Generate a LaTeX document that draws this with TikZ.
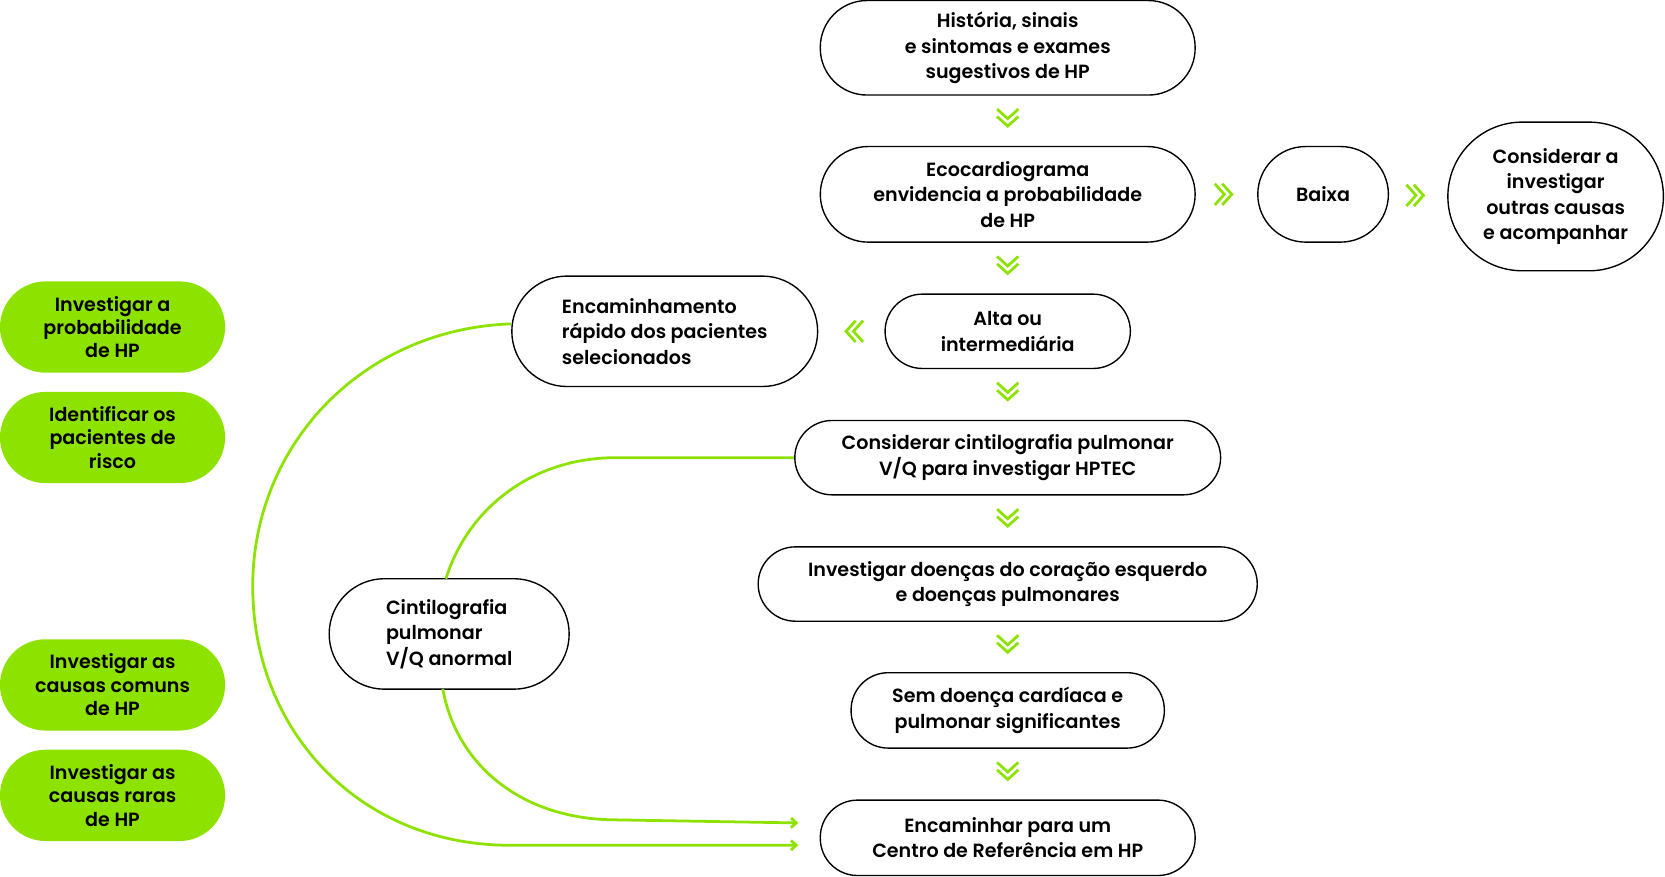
\documentclass[tikz,border=0pt]{standalone}
\usepackage{fontspec}
\setmainfont{Poppins}[BoldFont={* SemiBold}]
\usetikzlibrary{arrows.meta,calc}
\definecolor{lime}{RGB}{142,226,0}
\tikzset{
  pill/.style n args={3}{draw,line width=1.3pt,rounded corners=#3,
    minimum width=#1,minimum height=#2,align=center,inner sep=0pt,
    font=\fontsize{18}{24}\selectfont\bfseries},
  tag/.style={fill=lime,rounded corners=43pt,minimum width=212pt,
    minimum height=86pt,align=center,inner sep=0pt,
    font=\fontsize{18}{22}\selectfont\bfseries},
  link/.style={draw=lime,line width=2.6pt},
  dchev/.pic={
    \draw[lime,line width=2.6pt] (-10,4) -- (0,-5) -- (10,4);
    \draw[lime,line width=2.6pt] (-10,11) -- (0,2) -- (10,11);
  }
}

\begin{document}
\begin{tikzpicture}[x=1pt,y=1pt]
\useasboundingbox (0,0) rectangle (1568,-825);

% main column
\node[pill={353pt}{89pt}{44pt}] (hist) at (949,-45) {História, sinais\\e sintomas e exames\\sugestivos de HP};
\node[pill={353pt}{90pt}{45pt}] (eco) at (949,-183) {Ecocardiograma\\envidencia a probabilidade\\de HP};
\node[pill={123pt}{90pt}{45pt}] (baixa) at (1246,-183) {Baixa};
\node[pill={203pt}{140pt}{70pt}] (outras) at (1465,-185) {Considerar a\\investigar\\outras causas\\e acompanhar};
\node[pill={231pt}{70pt}{35pt}] (alta) at (949,-312) {Alta ou\\intermediária};
\node[pill={288pt}{104pt}{52pt},align=left] (rapido) at (626,-312) {Encaminhamento\\rápido dos pacientes\\selecionados};
\node[pill={401pt}{70pt}{35pt}] (cinti) at (949,-431) {Considerar cintilografia pulmonar\\V/Q para investigar HPTEC};
\node[pill={470pt}{70pt}{35pt}] (coracao) at (949,-550) {Investigar doenças do coração esquerdo\\e doenças pulmonares};
\node[pill={295pt}{71pt}{35pt}] (semdoenca) at (949,-669) {Sem doença cardíaca e\\pulmonar significantes};
\node[pill={353pt}{71pt}{35pt}] (centro) at (949,-789) {Encaminhar para um\\Centro de Referência em HP};
\node[pill={226pt}{104pt}{52pt},align=left] (anormal) at (423,-597) {Cintilografia\\pulmonar\\V/Q anormal};

% green tags
\node[tag] (t1) at (106,-308) {Investigar a\\probabilidade\\de HP};
\node[tag] (t2) at (106,-412) {Identificar os\\pacientes de\\risco};
\node[tag] (t3) at (106,-645) {Investigar as\\causas comuns\\de HP};
\node[tag] (t4) at (106,-749) {Investigar as\\causas raras\\de HP};

% chevrons
\pic at ($(hist.south)!.5!(eco.north)$) {dchev};
\pic at ($(eco.south)!.5!(alta.north)$) {dchev};
\pic at ($(alta.south)!.5!(cinti.north)$) {dchev};
\pic at ($(cinti.south)!.5!(coracao.north)$) {dchev};
\pic at ($(coracao.south)!.5!(semdoenca.north)$) {dchev};
\pic at ($(semdoenca.south)!.5!(centro.north)$) {dchev};
\pic[rotate=90] at ($(eco.east)!.5!(baixa.west)$) {dchev};
\pic[rotate=90] at ($(baixa.east)!.5!(outras.west)$) {dchev};
\pic[rotate=-90] at ($(rapido.east)!.5!(alta.west)$) {dchev};

% connectors
\coordinate (in1) at ([xshift=-20pt,yshift=14pt]centro.west);
\coordinate (in2) at ([xshift=-20pt,yshift=-7pt]centro.west);
\draw[link,-{Straight Barb[length=5pt,width=9pt]}] ([yshift=7pt]rapido.west) .. controls (340,-310) and (238,-420) .. (238,-552)
  .. controls (238,-690) and (340,-796) .. (480,-796) -- (in2);
\draw[link] (cinti.west) -- (580,-431) .. controls (500,-431) and (440,-480) .. (420,-545);
\draw[link,-{Straight Barb[length=5pt,width=9pt]}] (417,-649) .. controls (430,-720) and (490,-770) .. (575,-772) -- (in1);
\end{tikzpicture}
\end{document}
